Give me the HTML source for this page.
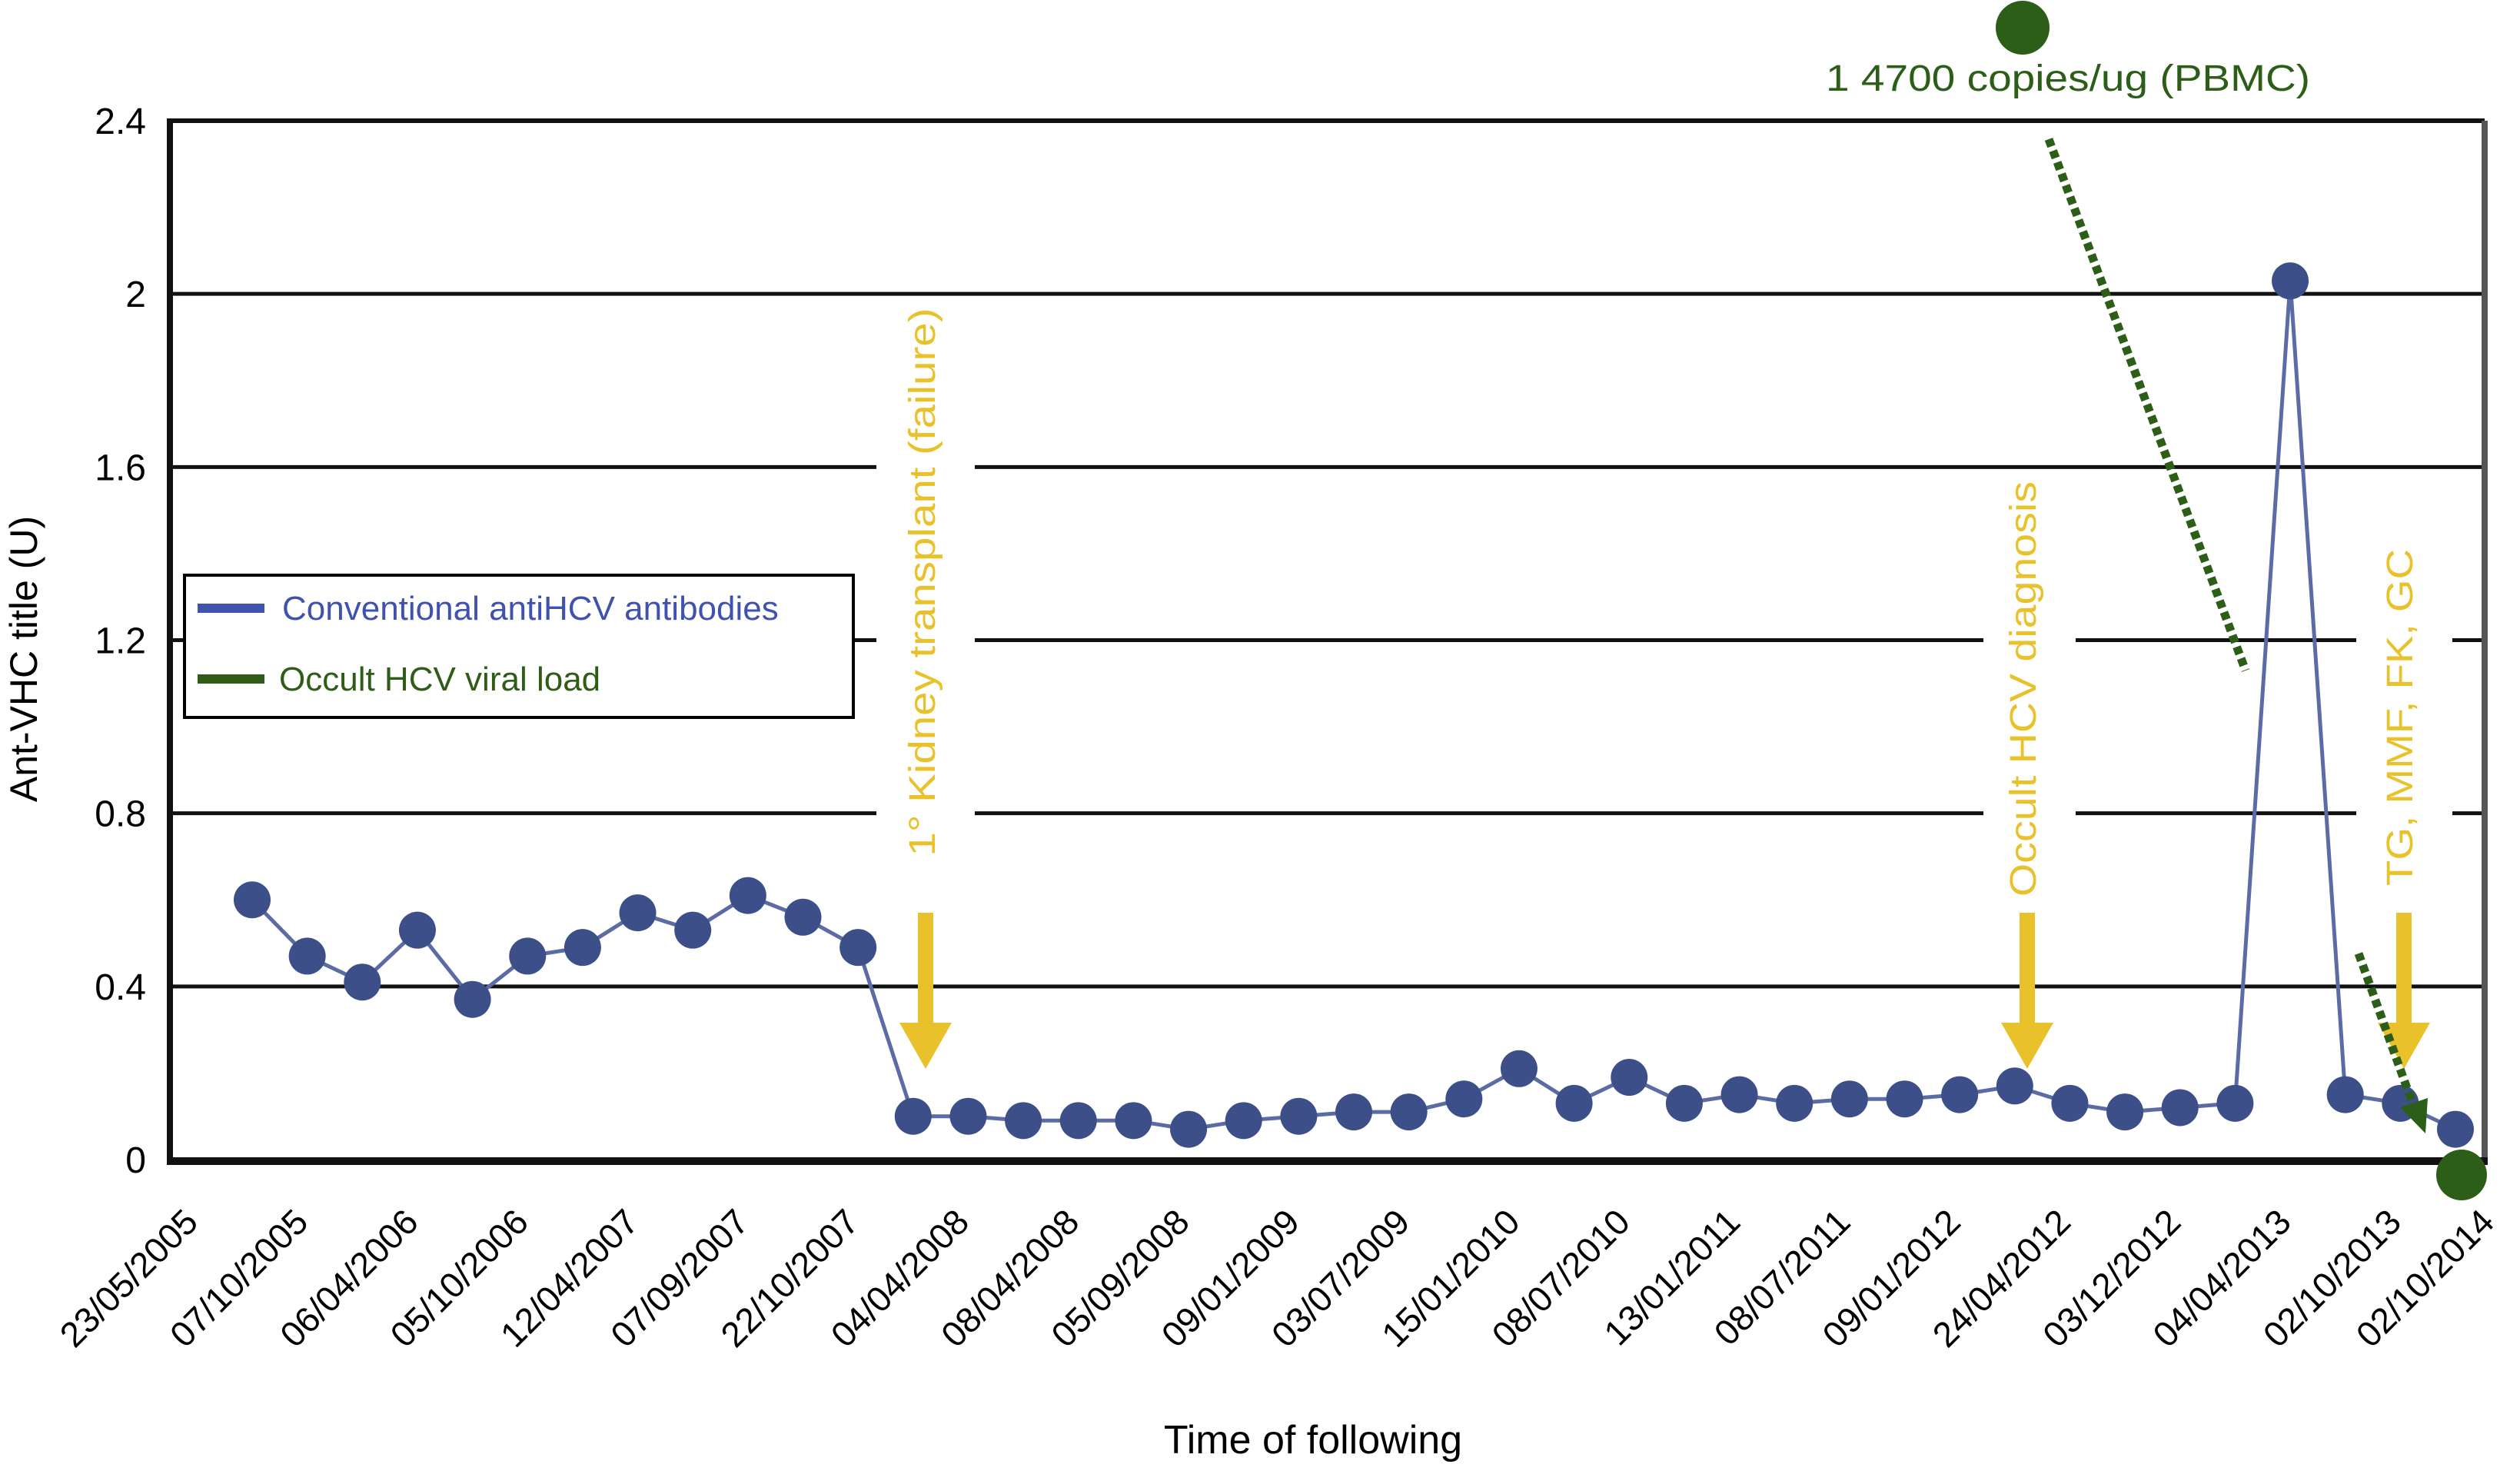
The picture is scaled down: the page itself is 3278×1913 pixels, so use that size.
<!DOCTYPE html>
<html><head><meta charset="utf-8"><style>
html,body{margin:0;padding:0;background:#fff;}
svg{display:block;font-family:"Liberation Sans",Arial,sans-serif;}
</style></head><body>
<svg id="chart" width="3278" height="1913" viewBox="0 0 3278 1913" xmlns="http://www.w3.org/2000/svg">
<g id="grid"></g>
<g id="masks"></g>
<g id="series"></g>
<g id="axes"></g>
<g id="ann"></g>
<g>
  <rect x="240" y="748" width="870" height="185" fill="#fff" stroke="#000" stroke-width="4"/>
  <line x1="257" y1="791" x2="344" y2="791" stroke="#3f52b0" stroke-width="12"/>
  <text x="367" y="806" font-size="44" fill="#3f52b0">Conventional antiHCV antibodies</text>
  <line x1="257" y1="883" x2="344" y2="883" stroke="#2f5c17" stroke-width="12"/>
  <text x="363" y="898" font-size="44" fill="#2f5c17">Occult HCV viral load</text>
</g>
<text transform="translate(48,857) rotate(-90)" text-anchor="middle" font-size="50" fill="#000">Ant-VHC title (U)</text>
<text x="1708" y="1890" text-anchor="middle" font-size="52" fill="#000">Time of following</text>
</svg>
<script>
const categories = ["23/05/2005","07/10/2005","06/04/2006","05/10/2006","12/04/2007","07/09/2007","22/10/2007","04/04/2008","08/04/2008","05/09/2008","09/01/2009","03/07/2009","15/01/2010","08/07/2010","13/01/2011","08/07/2011","09/01/2012","24/04/2012","03/12/2012","04/04/2013","02/10/2013","02/10/2014"];
const antibodyValues = [0.60,0.47,0.41,0.53,0.37,0.47,0.49,0.57,0.53,0.61,0.56,0.49,0.10,0.10,0.09,0.09,0.09,0.07,0.09,0.10,0.11,0.11,0.14,0.21,0.13,0.19,0.13,0.15,0.13,0.14,0.14,0.15,0.17,0.13,0.11,0.12,0.13,2.03,0.15,0.13,0.07];
const yTicks = [0,0.4,0.8,1.2,1.6,2,2.4];
const yTickLabels = ["0","0.4","0.8","1.2","1.6","2","2.4"];

(function(){
const NS="http://www.w3.org/2000/svg";
const X0=221, X1=3232, Y0=1508, YTOP=157;
function yScale(v){return Y0-(v/2.4)*(Y0-YTOP);}
function xPoint(i){return 328+71.65*i;}
function mk(tag,attrs,parent){const e=document.createElementNS(NS,tag);for(const k in attrs)e.setAttribute(k,attrs[k]);parent.appendChild(e);return e;}

const grid=document.getElementById('grid');
yTicks.forEach((t,i)=>{
  const y=yScale(t);
  if(t>0&&t<2.4){
    const l=mk('line',{x1:X0,x2:X1,y1:y,y2:y,stroke:'#111','stroke-width':5},grid);
    
    
  }
  const tx=mk('text',{x:190,y:y+17,'text-anchor':'end','font-size':48,fill:'#000'},grid);
  tx.textContent=yTickLabels[i];
  
  
});

const masks=document.getElementById('masks');
[[1140,1268,400],[2580,2700,700],[3065,3190,700]].forEach(r=>{
  const m=mk('rect',{x:r[0],y:r[2],width:r[1]-r[0],height:1120-r[2],fill:'#fff'},masks);
  
  
});

const axes=document.getElementById('axes');
const topBorder=mk('line',{x1:X0,x2:X1,y1:YTOP,y2:YTOP,stroke:'#111','stroke-width':6},axes);


const rb=mk('line',{x1:X1,x2:X1,y1:YTOP,y2:Y0,stroke:'#555','stroke-width':8},axes);


const la=mk('line',{x1:X0,x2:X0,y1:YTOP-3,y2:Y0+6,stroke:'#111','stroke-width':8},axes);


const ba=mk('line',{x1:X0-4,x2:X1+4,y1:Y0+2,y2:Y0+2,stroke:'#111','stroke-width':10},axes);



categories.forEach((c,k)=>{
  let xe=256+143.3*k+12;
  if(xe>3255)xe=3255;
  const t=mk('text',{transform:`translate(${xe-8},${1592}) rotate(-45)`,'text-anchor':'end','font-size':46,fill:'#000'},axes);
  t.textContent=c;
  
  
});

const series=document.getElementById('series');
const pts=antibodyValues.map((v,i)=>xPoint(i).toFixed(1)+','+yScale(v).toFixed(1)).join(' ');
const pl=mk('polyline',{points:pts,fill:'none',stroke:'#5b6ba3','stroke-width':5},series);


antibodyValues.forEach((v,i)=>{
  const c=mk('circle',{cx:xPoint(i),cy:yScale(v),r:24,fill:'#3d4f89'},series);
  
  
});

const ann=document.getElementById('ann');
const YC='#e9c22b';
function vtext(name,x,yc,txt,len){
  const t=mk('text',{transform:`translate(${x+16},${yc}) rotate(-90)`,'text-anchor':'middle','font-size':48,fill:YC,textLength:len,lengthAdjust:'spacingAndGlyphs'},ann);
  t.textContent=txt;
  
  
}
function arrow(name,x){
  const g=mk('g',{},ann);
  
  
  mk('rect',{x:x-10,y:1187,width:20,height:160,fill:YC},g);
  mk('polygon',{points:`${x-34},1330 ${x+34},1330 ${x},1390`,fill:YC},g);
}
vtext('annotation-kidney-transplant',1200,757,'1° Kidney transplant (failure)',713);
arrow('arrow-kidney-transplant',1204);
vtext('annotation-occult-diagnosis',2632,896,'Occult HCV diagnosis',540);
arrow('arrow-occult-diagnosis',2637);
vtext('annotation-treatment',3122,933,'TG, MMF, FK, GC',438);
arrow('arrow-treatment',3127);

const G='#2c5e17';
const c1=mk('circle',{cx:2631,cy:36,r:35,fill:G},ann);


const c2=mk('circle',{cx:3202,cy:1528,r:33,fill:G},ann);


const vt=mk('text',{x:2690,y:118,'text-anchor':'middle','font-size':48,fill:G,textLength:630,lengthAdjust:'spacingAndGlyphs'},ann);
vt.textContent='1 4700 copies/ug (PBMC)';


const d1=mk('line',{x1:2665,y1:181,x2:2921,y2:872,stroke:G,'stroke-width':11,'stroke-dasharray':'10 6'},ann);


const d2=mk('line',{x1:3068,y1:1240,x2:3140,y2:1440,stroke:G,'stroke-width':11,'stroke-dasharray':'10 6'},ann);


const ah=mk('polygon',{points:'3122,1440 3158,1428 3155,1474',fill:G},ann);


})();
</script>
</body></html>
